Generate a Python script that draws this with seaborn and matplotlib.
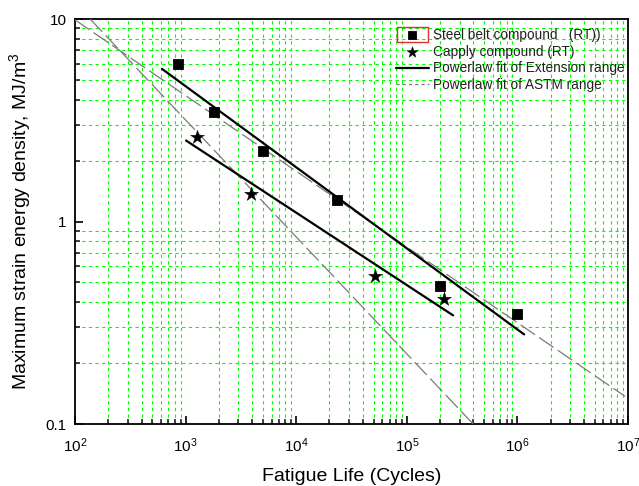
import matplotlib
matplotlib.use("Agg")
import matplotlib.pyplot as plt
import matplotlib.ticker as mticker
from matplotlib.patches import Rectangle
import numpy as np
import pandas as pd
import seaborn as sns

# ---- data ----
steel_life = [853, 1810, 5010, 23400, 200000, 1000000]
steel_sed = [6.0, 3.48, 2.24, 1.28, 0.479, 0.348]

capply_life = [1270, 3900, 51500, 217000]
capply_sed = [2.62, 1.37, 0.536, 0.413]

steel_fit_life = [612, 1150000]
steel_fit_sed = [5.67, 0.277]

capply_fit_life = [1010, 262000]
capply_fit_sed = [2.51, 0.344]

astm_steel_life = [100, 9.4e6]
astm_steel_sed = [9.9, 0.137]

astm_capply_life = [137, 398000]
astm_capply_sed = [10.0, 0.1]

x_ticks = [1e2, 1e3, 1e4, 1e5, 1e6, 1e7]
y_ticks = [0.1, 1, 10]
y_tick_labels = ["0.1", "1", "10"]

sns.set_theme(style="white")
plt.rcParams["font.family"] = ["Liberation Sans", "DejaVu Sans"]
plt.rcParams["mathtext.fontset"] = "custom"
plt.rcParams["mathtext.rm"] = "Liberation Sans"

fig = plt.figure(figsize=(6.39, 4.86), dpi=100)
ax = fig.add_axes([75 / 639, 1 - 424 / 486, (628 - 75) / 639, (424 - 19) / 486])
ax.set_xscale("log")
ax.set_yscale("log")
ax.set_xlim(1e2, 1e7)
ax.set_ylim(0.1, 10)

# grid only at minor positions
ax.xaxis.set_minor_locator(mticker.LogLocator(base=10, subs=np.arange(2, 10)))
ax.yaxis.set_minor_locator(mticker.LogLocator(base=10, subs=np.arange(2, 10)))
ax.grid(False, which="major")
ax.grid(True, which="minor", color="#00ff00", linestyle=(0, (3, 3)), linewidth=0.8)
ax.set_axisbelow(True)

df_astm_s = pd.DataFrame({"x": astm_steel_life, "y": astm_steel_sed})
df_astm_c = pd.DataFrame({"x": astm_capply_life, "y": astm_capply_sed})
dash = (0, (14, 4))
sns.lineplot(data=df_astm_s, x="x", y="y", ax=ax, color="#7a7a7a", linewidth=0.9,
             label="Powerlaw fit of ASTM range", zorder=3)
ax.lines[-1].set_linestyle(dash)
sns.lineplot(data=df_astm_c, x="x", y="y", ax=ax, color="#7a7a7a", linewidth=0.9,
             label="_nolegend_", zorder=3)
ax.lines[-1].set_linestyle(dash)

df_fit_s = pd.DataFrame({"x": steel_fit_life, "y": steel_fit_sed})
df_fit_c = pd.DataFrame({"x": capply_fit_life, "y": capply_fit_sed})
sns.lineplot(data=df_fit_s, x="x", y="y", ax=ax, color="black", linewidth=1.6,
             label="Powerlaw fit of Extension range", zorder=4)
sns.lineplot(data=df_fit_c, x="x", y="y", ax=ax, color="black", linewidth=1.6,
             label="_nolegend_", zorder=4)

df_s = pd.DataFrame({"x": steel_life, "y": steel_sed})
df_c = pd.DataFrame({"x": capply_life, "y": capply_sed})
sns.scatterplot(data=df_s, x="x", y="y", ax=ax, marker="s", s=55, color="black",
                edgecolor="black", label="Steel belt compound   (RT))", zorder=5)
sns.scatterplot(data=df_c, x="x", y="y", ax=ax, marker="*", s=110, color="black",
                edgecolor="black", linewidth=0.3, label="Capply compound (RT)", zorder=5)

ax.set_xticks(x_ticks)
ax.set_yticks(y_ticks)
ax.set_yticklabels(y_tick_labels)
ax.tick_params(axis="both", which="major", direction="in", length=6, width=1.2,
               labelsize=11, bottom=True, left=True, top=False, right=False, pad=6,
               colors="black")
ax.tick_params(axis="both", which="minor", direction="in", length=3.5, width=1.2,
               bottom=True, left=True, top=False, right=False)
ax.tick_params(axis="x", which="major", pad=9)
for sp in ax.spines.values():
    sp.set_color("black")
    sp.set_linewidth(1.3)

ax.set_xlabel("Fatigue Life (Cycles)", fontsize=14, labelpad=9, color="black")
ax.set_ylabel("Maximum strain energy density, MJ/m$^3$", fontsize=14, labelpad=8,
              color="black")

handles, labels = ax.get_legend_handles_labels()
order = ["Steel belt compound   (RT))", "Capply compound (RT)",
         "Powerlaw fit of Extension range", "Powerlaw fit of ASTM range"]
hmap = dict(zip(labels, handles))
leg = ax.legend([hmap[o] for o in order], order, loc="upper left",
                bbox_to_anchor=((396 - 75) / 553, (424 - 28) / 405),
                frameon=False, fontsize=9.8, handlelength=2.4, handletextpad=0.3,
                labelspacing=0.2, borderaxespad=0, borderpad=0, markerscale=0.8)
for t in leg.get_texts():
    t.set_color("#222222")
leg_lines = leg.get_lines()
if leg_lines:
    leg_lines[-1].set_linestyle((0, (2.5, 2.5)))

# small red box drawn around the first legend symbol in the reference
fig.add_artist(Rectangle((397 / 639, 1 - 42 / 486), 31 / 639, 15 / 486,
                         transform=fig.transFigure, fill=False,
                         edgecolor="#e03030", linewidth=1.0))

fig.savefig("out.png", dpi=100)
